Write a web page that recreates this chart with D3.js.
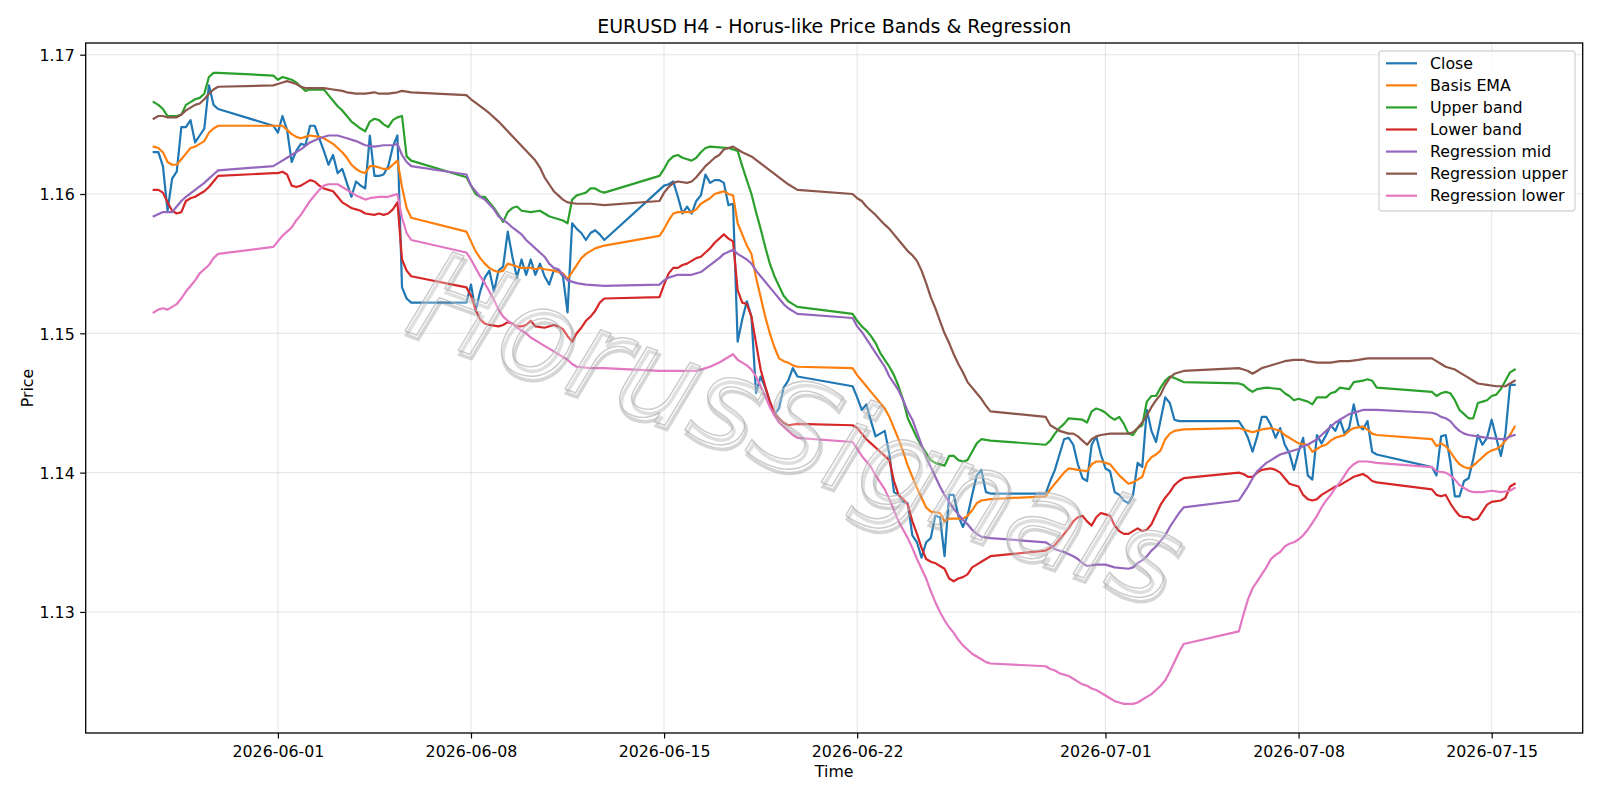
<!DOCTYPE html>
<html>
<head>
<meta charset="utf-8">
<script src="https://cdn.jsdelivr.net/npm/d3@7"></script>
<style>
  body { margin: 0; background: #fff; }
  svg text { font-family: "DejaVu Sans", sans-serif; fill: #000; }
</style>
</head>
<body>
<svg id="chart" width="1600" height="800"></svg>
<script>
// all times are hours after 2026-06-01 00:00 UTC, H4 bars
var T0 = Date.UTC(2026, 5, 1);

// trading sessions (first bar, last bar) - weekends are skipped
var sessions = [[-108, -52], [-4, 116], [164, 284], [332, 452], [500, 620], [668, 788], [836, 956], [1004, 1076]];

// close, one value per H4 bar of each session
var closeBySession = [
  [1.1630,1.1630,1.1620,1.1588,1.1611,1.1616,1.1648,1.1648,1.1653,1.1637,1.1642,1.1647,1.1678,1.1664,1.1661],
  [1.1649,1.1644,1.1656,1.1646,1.1623,1.1631,1.1636,1.1635,1.1649,1.1649,1.1640,1.1631,1.1621,1.1628,1.1615,1.1618,1.1608,1.1598,1.1609,1.1606,1.1604,1.1642,1.1613,1.1613,1.1614,1.1620,1.1634,1.1642,1.1533,1.1525,1.1522],
  [1.1522,1.1535,1.1516,1.1530,1.1540,1.1545,1.1530,1.1545,1.1548,1.1573,1.1555,1.1540,1.1553,1.1542,1.1553,1.1542,1.1550,1.1541,1.1535,1.1545,1.1545,1.1541,1.1515,1.1579,1.1575,1.1572,1.1567,1.1572,1.1574,1.1571,1.1567],
  [1.1603,1.1606,1.1607,1.1609,1.1598,1.1586,1.1591,1.1586,1.1595,1.1599,1.1614,1.1608,1.1610,1.1610,1.1608,1.1592,1.1593,1.1494,1.1510,1.1523,1.1512,1.1457,1.1469,1.1461,1.1451,1.1442,1.1446,1.1461,1.1466,1.1475,1.1469],
  [1.1462,1.1454,1.1445,1.1449,1.1437,1.1426,1.1428,1.1430,1.1413,1.1386,1.1384,1.1379,1.1378,1.1355,1.1350,1.1339,1.1350,1.1353,1.1369,1.1368,1.1340,1.1384,1.1384,1.1369,1.1361,1.1369,1.1384,1.1398,1.1402,1.1386,1.1385],
  [1.1385,1.1394,1.1402,1.1413,1.1424,1.1425,1.1420,1.1406,1.1396,1.1394,1.1420,1.1426,1.1413,1.1403,1.1401,1.1386,1.1384,1.1380,1.1378,1.1384,1.1407,1.1404,1.1445,1.1430,1.1422,1.1438,1.1454,1.1450,1.1438,1.1437,1.1437],
  [1.1437,1.1432,1.1425,1.1415,1.1426,1.1440,1.1440,1.1434,1.1425,1.1432,1.1420,1.1414,1.1402,1.1415,1.1425,1.1398,1.1395,1.1427,1.1421,1.1427,1.1434,1.1430,1.1438,1.1428,1.1432,1.1449,1.1434,1.1431,1.1437,1.1415,1.1413],
  [1.1404,1.1398,1.1426,1.1427,1.1408,1.1383,1.1383,1.1394,1.1396,1.1410,1.1427,1.1420,1.1425,1.1438,1.1425,1.1412,1.1428,1.1463,1.1463]
];

// smooth series as [hour, price]
var basisEma = [[-108,1.1634],[-104,1.1633],[-100,1.1630],[-96,1.1623],[-92,1.1621],[-88,1.1621],[-84,1.1625],[-80,1.1629],[-76,1.1633],[-72,1.1634],[-68,1.1636],[-64,1.1638],[-60,1.1644],[-56,1.1647],[-52,1.1649],
  [-4,1.1649],[0,1.1649],[4,1.1649],[8,1.1646],[12,1.1643],[16,1.1641],[20,1.1640],[24,1.1641],[28,1.1642],[36,1.1641],[40,1.1640],[44,1.1638],[48,1.1636],[52,1.1633],[56,1.1630],[60,1.1626],[64,1.1621],[68,1.1618],[72,1.1616],[76,1.1615],[80,1.1620],[84,1.1620],[88,1.1619],[92,1.1618],[96,1.1618],[100,1.1621],[104,1.1624],[108,1.1605],[112,1.1590],[116,1.1583],
  [164,1.1573],[168,1.1566],[172,1.1559],[176,1.1554],[180,1.1550],[184,1.1547],[188,1.1545],[192,1.1544],[196,1.1545],[200,1.1550],[204,1.1549],[208,1.1548],[212,1.1547],[220,1.1547],[224,1.1546],[228,1.1547],[232,1.1546],[240,1.1545],[244,1.1544],[248,1.1543],[252,1.1539],[256,1.1544],[260,1.1549],[264,1.1554],[268,1.1557],[272,1.1559],[276,1.1561],[284,1.1563],
  [332,1.1570],[336,1.1575],[340,1.1581],[344,1.1586],[348,1.1587],[360,1.1587],[364,1.1589],[368,1.1593],[372,1.1595],[376,1.1597],[380,1.1600],[384,1.1601],[388,1.1602],[392,1.1600],[396,1.1599],[400,1.1579],[404,1.1571],[408,1.1563],[412,1.1557],[416,1.1540],[420,1.1526],[424,1.1512],[428,1.1500],[432,1.1490],[436,1.1482],[440,1.1480],[444,1.1479],[448,1.1477],[452,1.1476],
  [500,1.1475],[504,1.1470],[508,1.1466],[512,1.1462],[516,1.1458],[520,1.1454],[524,1.1450],[528,1.1446],[532,1.1440],[536,1.1432],[540,1.1424],[544,1.1415],[548,1.1405],[552,1.1397],[556,1.1389],[560,1.1382],[564,1.1375],[568,1.1372],[576,1.1371],[580,1.1365],[584,1.1367],[596,1.1367],[600,1.1369],[604,1.1373],[608,1.1378],[612,1.1380],[620,1.1381],
  [668,1.1383],[672,1.1388],[676,1.1392],[680,1.1396],[684,1.1400],[688,1.1403],[696,1.1402],[704,1.1401],[708,1.1406],[712,1.1408],[716,1.1408],[720,1.1407],[724,1.1406],[728,1.1402],[732,1.1398],[736,1.1395],[740,1.1392],[744,1.1393],[748,1.1395],[752,1.1397],[756,1.1407],[760,1.1411],[764,1.1413],[768,1.1416],[772,1.1424],[776,1.1428],[780,1.1430],[788,1.1431],
  [836,1.1432],[840,1.1431],[844,1.1430],[848,1.1429],[852,1.1430],[856,1.1431],[864,1.1432],[868,1.1431],[872,1.1430],[876,1.1427],[880,1.1425],[884,1.1423],[888,1.1421],[896,1.1420],[900,1.1415],[904,1.1417],[908,1.1419],[912,1.1420],[916,1.1423],[920,1.1425],[924,1.1426],[928,1.1427],[932,1.1430],[936,1.1432],[944,1.1433],[948,1.1431],[952,1.1428],[956,1.1427],
  [1004,1.1424],[1008,1.1419],[1012,1.1421],[1016,1.1419],[1020,1.1415],[1024,1.1410],[1028,1.1406],[1032,1.1404],[1036,1.1403],[1040,1.1405],[1044,1.1408],[1048,1.1411],[1052,1.1414],[1056,1.1416],[1060,1.1417],[1064,1.1419],[1068,1.1423],[1072,1.1427],[1076,1.1433]];

var upperBand = [[-108,1.1666],[-104,1.1664],[-100,1.1661],[-96,1.1656],[-88,1.1656],[-84,1.1657],[-80,1.1664],[-76,1.1666],[-72,1.1668],[-68,1.1669],[-64,1.1672],[-60,1.1684],[-56,1.1687],[-52,1.1687],
  [-4,1.1685],[0,1.1682],[4,1.1684],[8,1.1683],[12,1.1682],[16,1.1680],[20,1.1677],[24,1.1674],[28,1.1675],[40,1.1675],[44,1.1671],[52,1.1663],[56,1.1660],[60,1.1656],[64,1.1652],[72,1.1647],[76,1.1645],[80,1.1652],[84,1.1654],[88,1.1653],[92,1.1650],[96,1.1648],[100,1.1653],[104,1.1655],[108,1.1656],[112,1.1627],[116,1.1624],
  [164,1.1612],[168,1.1606],[172,1.1600],[176,1.1598],[180,1.1598],[184,1.1594],[188,1.1590],[192,1.1585],[196,1.1580],[200,1.1587],[204,1.1590],[208,1.1591],[212,1.1588],[220,1.1587],[228,1.1588],[232,1.1586],[236,1.1584],[240,1.1583],[248,1.1581],[252,1.1579],[256,1.1596],[260,1.1599],[264,1.1600],[268,1.1601],[272,1.1604],[276,1.1604],[280,1.1602],[284,1.1601],
  [332,1.1613],[336,1.1618],[340,1.1624],[344,1.1627],[348,1.1628],[352,1.1626],[360,1.1624],[364,1.1626],[368,1.1630],[372,1.1633],[376,1.1634],[392,1.1633],[400,1.1631],[404,1.1620],[408,1.1610],[412,1.1600],[416,1.1587],[420,1.1575],[424,1.1562],[428,1.1550],[432,1.1541],[436,1.1534],[440,1.1527],[444,1.1523],[448,1.1521],[452,1.1519],
  [500,1.1514],[504,1.1509],[508,1.1505],[512,1.1502],[516,1.1498],[520,1.1493],[524,1.1486],[528,1.1481],[532,1.1476],[536,1.1470],[540,1.1462],[544,1.1452],[548,1.1439],[552,1.1432],[556,1.1425],[560,1.1419],[564,1.1414],[568,1.1409],[572,1.1407],[580,1.1405],[584,1.1412],[588,1.1412],[592,1.1409],[596,1.1408],[600,1.1409],[604,1.1415],[608,1.1421],[612,1.1424],[620,1.1423],
  [668,1.1420],[672,1.1423],[676,1.1428],[680,1.1432],[684,1.1435],[688,1.1439],[700,1.1438],[704,1.1436],[708,1.1444],[712,1.1446],[716,1.1445],[720,1.1443],[724,1.1440],[728,1.1438],[732,1.1440],[736,1.1435],[740,1.1428],[744,1.1427],[748,1.1432],[752,1.1434],[756,1.1451],[760,1.1455],[764,1.1455],[768,1.1461],[772,1.1466],[776,1.1469],[780,1.1468],[788,1.1465],
  [836,1.1464],[840,1.1463],[844,1.1460],[848,1.1458],[852,1.1460],[860,1.1461],[872,1.1460],[876,1.1457],[880,1.1455],[884,1.1452],[888,1.1453],[896,1.1451],[900,1.1449],[904,1.1454],[912,1.1454],[916,1.1457],[920,1.1458],[924,1.1461],[932,1.1460],[936,1.1465],[944,1.1466],[948,1.1467],[952,1.1466],[956,1.1461],
  [1004,1.1458],[1008,1.1455],[1012,1.1457],[1016,1.1458],[1020,1.1457],[1024,1.1452],[1028,1.1445],[1032,1.1442],[1036,1.1439],[1040,1.1439],[1044,1.1450],[1048,1.1451],[1052,1.1452],[1056,1.1455],[1060,1.1456],[1064,1.1460],[1068,1.1466],[1072,1.1472],[1076,1.1474]];

var lowerBand = [[-108,1.1603],[-104,1.1603],[-100,1.1601],[-96,1.1594],[-92,1.1588],[-88,1.1586],[-84,1.1587],[-80,1.1595],[-76,1.1597],[-72,1.1598],[-68,1.1600],[-64,1.1602],[-60,1.1605],[-56,1.1609],[-52,1.1613],
  [-4,1.1615],[0,1.1615],[4,1.1616],[8,1.1614],[12,1.1606],[16,1.1605],[20,1.1606],[24,1.1608],[28,1.1610],[32,1.1609],[36,1.1606],[40,1.1604],[44,1.1603],[48,1.1602],[52,1.1598],[56,1.1594],[60,1.1592],[64,1.1590],[68,1.1589],[72,1.1588],[76,1.1586],[84,1.1585],[88,1.1586],[92,1.1585],[96,1.1586],[100,1.1589],[104,1.1594],[108,1.1553],[112,1.1545],[116,1.1541],
  [164,1.1533],[168,1.1527],[172,1.1517],[176,1.1510],[180,1.1507],[184,1.1506],[192,1.1505],[196,1.1506],[200,1.1508],[204,1.1507],[208,1.1505],[212,1.1505],[216,1.1506],[220,1.1509],[224,1.1505],[232,1.1504],[240,1.1506],[244,1.1505],[248,1.1503],[252,1.1498],[256,1.1494],[260,1.1500],[264,1.1504],[268,1.1509],[272,1.1512],[276,1.1516],[280,1.1522],[284,1.1525],
  [332,1.1526],[336,1.1535],[340,1.1543],[344,1.1547],[348,1.1547],[352,1.1549],[356,1.1550],[360,1.1552],[364,1.1554],[368,1.1555],[372,1.1558],[376,1.1561],[380,1.1565],[384,1.1568],[388,1.1571],[392,1.1568],[396,1.1566],[400,1.1531],[404,1.1522],[408,1.1521],[412,1.1512],[416,1.1493],[420,1.1474],[424,1.1462],[428,1.1451],[432,1.1443],[436,1.1439],[440,1.1436],[444,1.1434],[452,1.1435],
  [500,1.1434],[504,1.1432],[508,1.1428],[512,1.1424],[516,1.1421],[520,1.1418],[524,1.1415],[528,1.1412],[532,1.1409],[536,1.1394],[540,1.1384],[544,1.1381],[548,1.1377],[552,1.1365],[556,1.1356],[560,1.1346],[564,1.1338],[568,1.1336],[572,1.1335],[576,1.1333],[580,1.1331],[584,1.1324],[588,1.1322],[592,1.1324],[596,1.1325],[600,1.1327],[604,1.1332],[608,1.1334],[612,1.1336],[616,1.1338],[620,1.1340],
  [668,1.1344],[672,1.1346],[676,1.1348],[680,1.1352],[684,1.1356],[688,1.1360],[692,1.1365],[696,1.1368],[700,1.1369],[704,1.1365],[708,1.1362],[712,1.1368],[716,1.1371],[720,1.1370],[724,1.1369],[728,1.1362],[732,1.1358],[736,1.1356],[740,1.1356],[744,1.1358],[748,1.1360],[752,1.1358],[756,1.1359],[760,1.1363],[764,1.1370],[768,1.1377],[772,1.1382],[776,1.1386],[780,1.1391],[784,1.1394],[788,1.1396],
  [836,1.1400],[840,1.1399],[844,1.1397],[848,1.1397],[852,1.1400],[856,1.1402],[864,1.1403],[868,1.1402],[872,1.1400],[876,1.1396],[880,1.1392],[888,1.1390],[892,1.1384],[896,1.1381],[900,1.1380],[904,1.1381],[908,1.1384],[912,1.1386],[916,1.1388],[920,1.1390],[924,1.1391],[928,1.1393],[932,1.1395],[936,1.1397],[940,1.1398],[944,1.1399],[948,1.1397],[952,1.1394],[956,1.1393],
  [1004,1.1388],[1008,1.1384],[1012,1.1383],[1016,1.1384],[1020,1.1378],[1024,1.1373],[1028,1.1369],[1032,1.1368],[1036,1.1368],[1040,1.1366],[1044,1.1367],[1048,1.1372],[1052,1.1377],[1056,1.1379],[1064,1.1380],[1068,1.1382],[1072,1.1390],[1076,1.1392]];

var regMid = [[-108,1.1584],[-100,1.1587],[-92,1.1587],[-88,1.1591],[-84,1.1595],[-80,1.1598],[-72,1.1603],[-64,1.1608],[-60,1.1611],[-56,1.1614],[-52,1.1617],
  [-4,1.1620],[0,1.1622],[8,1.1626],[12,1.1628],[20,1.1632],[28,1.1637],[36,1.1640],[44,1.1642],[52,1.1642],[60,1.1640],[68,1.1638],[76,1.1635],[84,1.1634],[92,1.1635],[100,1.1635],[104,1.1636],[108,1.1628],[112,1.1623],[116,1.1620],
  [164,1.1614],[168,1.1606],[176,1.1598],[180,1.1596],[188,1.1589],[192,1.1584],[200,1.1579],[204,1.1576],[212,1.1571],[216,1.1567],[224,1.1561],[232,1.1555],[236,1.1550],[240,1.1547],[244,1.1546],[248,1.1542],[252,1.1538],[260,1.1536],[268,1.1535],[284,1.1534],
  [332,1.1535],[336,1.1538],[340,1.1540],[348,1.1542],[360,1.1542],[368,1.1544],[376,1.1549],[384,1.1554],[388,1.1557],[396,1.1560],[400,1.1557],[408,1.1553],[412,1.1550],[416,1.1545],[420,1.1541],[424,1.1537],[428,1.1533],[432,1.1529],[436,1.1525],[440,1.1521],[444,1.1518],[452,1.1514],
  [500,1.1511],[504,1.1505],[508,1.1501],[512,1.1496],[516,1.1491],[520,1.1486],[524,1.1481],[528,1.1476],[532,1.1469],[536,1.1464],[540,1.1459],[544,1.1452],[548,1.1444],[552,1.1438],[556,1.1429],[560,1.1420],[564,1.1411],[568,1.1404],[572,1.1397],[576,1.1390],[580,1.1384],[584,1.1379],[588,1.1374],[592,1.1370],[596,1.1366],[600,1.1363],[604,1.1359],[608,1.1356],[612,1.1354],[620,1.1353],
  [668,1.1350],[672,1.1348],[676,1.1345],[684,1.1343],[692,1.1340],[696,1.1338],[700,1.1335],[704,1.1333],[712,1.1334],[720,1.1334],[728,1.1332],[740,1.1331],[744,1.1332],[748,1.1335],[752,1.1337],[756,1.1340],[760,1.1344],[764,1.1347],[768,1.1351],[772,1.1355],[776,1.1361],[780,1.1366],[784,1.1371],[788,1.1375],
  [836,1.1380],[840,1.1385],[844,1.1390],[848,1.1396],[852,1.1401],[856,1.1404],[860,1.1407],[864,1.1409],[868,1.1411],[872,1.1413],[876,1.1414],[880,1.1415],[888,1.1417],[892,1.1419],[896,1.1420],[900,1.1422],[904,1.1424],[908,1.1427],[912,1.1430],[916,1.1433],[920,1.1436],[924,1.1438],[928,1.1440],[932,1.1442],[936,1.1443],[940,1.1444],[944,1.1445],[956,1.1445],
  [1004,1.1443],[1008,1.1442],[1012,1.1440],[1016,1.1439],[1020,1.1437],[1024,1.1433],[1028,1.1430],[1032,1.1428],[1036,1.1427],[1044,1.1426],[1052,1.1425],[1064,1.1424],[1068,1.1424],[1072,1.1426],[1076,1.1427]];

var regUpper = [[-108,1.1654],[-104,1.1656],[-100,1.1656],[-96,1.1655],[-88,1.1655],[-84,1.1657],[-80,1.1660],[-76,1.1662],[-72,1.1664],[-68,1.1665],[-64,1.1668],[-60,1.1672],[-56,1.1675],[-52,1.1677],
  [-4,1.1678],[0,1.1679],[4,1.1680],[8,1.1681],[12,1.1680],[16,1.1679],[20,1.1677],[24,1.1676],[40,1.1676],[48,1.1675],[56,1.1674],[60,1.1673],[68,1.1672],[76,1.1672],[84,1.1673],[88,1.1672],[96,1.1672],[104,1.1673],[108,1.1674],[116,1.1673],
  [164,1.1671],[168,1.1668],[176,1.1663],[184,1.1658],[192,1.1652],[200,1.1645],[208,1.1638],[216,1.1631],[224,1.1624],[228,1.1619],[232,1.1612],[236,1.1607],[240,1.1602],[244,1.1599],[248,1.1596],[252,1.1594],[260,1.1593],[272,1.1593],[284,1.1592],
  [332,1.1595],[336,1.1601],[340,1.1605],[344,1.1608],[348,1.1609],[356,1.1608],[360,1.1609],[364,1.1612],[368,1.1616],[372,1.1620],[376,1.1623],[380,1.1626],[384,1.1628],[388,1.1632],[392,1.1633],[396,1.1634],[400,1.1632],[404,1.1630],[412,1.1627],[420,1.1622],[428,1.1617],[436,1.1612],[444,1.1607],[452,1.1603],
  [500,1.1600],[504,1.1597],[508,1.1595],[512,1.1591],[516,1.1588],[520,1.1585],[528,1.1578],[532,1.1575],[540,1.1567],[544,1.1563],[548,1.1559],[552,1.1556],[556,1.1552],[560,1.1545],[564,1.1536],[568,1.1526],[572,1.1518],[576,1.1509],[580,1.1500],[584,1.1493],[588,1.1485],[592,1.1478],[596,1.1472],[600,1.1465],[604,1.1461],[608,1.1457],[612,1.1453],[616,1.1448],[620,1.1444],
  [668,1.1440],[672,1.1434],[676,1.1432],[680,1.1430],[688,1.1428],[692,1.1428],[696,1.1426],[700,1.1423],[704,1.1420],[708,1.1424],[712,1.1426],[716,1.1427],[724,1.1428],[740,1.1428],[744,1.1429],[748,1.1432],[752,1.1436],[756,1.1441],[760,1.1447],[764,1.1452],[768,1.1456],[772,1.1463],[776,1.1468],[780,1.1471],[788,1.1473],
  [836,1.1475],[840,1.1474],[844,1.1473],[848,1.1471],[852,1.1473],[856,1.1475],[860,1.1476],[868,1.1478],[876,1.1480],[884,1.1481],[892,1.1481],[896,1.1480],[904,1.1479],[916,1.1479],[924,1.1480],[932,1.1480],[940,1.1481],[948,1.1482],[956,1.1482],
  [1004,1.1482],[1008,1.1480],[1012,1.1478],[1016,1.1476],[1024,1.1474],[1028,1.1472],[1032,1.1470],[1036,1.1468],[1040,1.1466],[1044,1.1464],[1052,1.1463],[1060,1.1462],[1068,1.1462],[1072,1.1464],[1076,1.1466]];

var regLower = [[-108,1.1515],[-104,1.1517],[-100,1.1518],[-96,1.1517],[-92,1.1519],[-88,1.1521],[-84,1.1525],[-80,1.1530],[-76,1.1534],[-72,1.1538],[-68,1.1543],[-64,1.1546],[-60,1.1549],[-56,1.1554],[-52,1.1557],
  [-4,1.1562],[0,1.1566],[4,1.1570],[8,1.1573],[12,1.1576],[16,1.1581],[20,1.1585],[24,1.1590],[28,1.1595],[32,1.1599],[36,1.1603],[40,1.1606],[44,1.1607],[52,1.1607],[56,1.1605],[60,1.1603],[64,1.1601],[68,1.1599],[76,1.1596],[80,1.1597],[88,1.1598],[96,1.1598],[100,1.1599],[104,1.1600],[108,1.1583],[112,1.1572],[116,1.1567],
  [164,1.1558],[168,1.1553],[172,1.1547],[176,1.1541],[180,1.1536],[184,1.1530],[188,1.1524],[192,1.1517],[196,1.1512],[200,1.1509],[204,1.1507],[208,1.1504],[212,1.1502],[216,1.1500],[220,1.1497],[224,1.1495],[228,1.1493],[232,1.1491],[236,1.1489],[240,1.1487],[248,1.1483],[252,1.1481],[256,1.1478],[260,1.1476],[272,1.1475],[284,1.1475],
  [332,1.1473],[364,1.1473],[372,1.1475],[376,1.1476],[384,1.1479],[388,1.1481],[392,1.1483],[396,1.1485],[400,1.1481],[404,1.1479],[408,1.1477],[412,1.1474],[416,1.1469],[420,1.1462],[424,1.1455],[428,1.1447],[432,1.1441],[436,1.1436],[440,1.1433],[444,1.1430],[448,1.1427],[452,1.1425],
  [500,1.1422],[504,1.1417],[508,1.1412],[512,1.1408],[516,1.1404],[520,1.1398],[524,1.1393],[528,1.1388],[532,1.1381],[536,1.1373],[540,1.1365],[544,1.1359],[548,1.1353],[552,1.1346],[556,1.1338],[560,1.1331],[564,1.1324],[568,1.1315],[572,1.1307],[576,1.1300],[580,1.1294],[584,1.1289],[588,1.1285],[592,1.1280],[596,1.1276],[600,1.1273],[604,1.1270],[608,1.1268],[612,1.1266],[616,1.1264],[620,1.1263],
  [668,1.1261],[672,1.1259],[676,1.1258],[680,1.1256],[684,1.1255],[688,1.1254],[692,1.1252],[696,1.1250],[700,1.1248],[704,1.1247],[708,1.1245],[712,1.1244],[716,1.1242],[720,1.1240],[724,1.1238],[728,1.1236],[732,1.1235],[736,1.1234],[744,1.1234],[748,1.1235],[752,1.1237],[756,1.1239],[760,1.1241],[764,1.1244],[768,1.1247],[772,1.1251],[776,1.1257],[780,1.1264],[784,1.1271],[788,1.1277],
  [836,1.1286],[840,1.1298],[844,1.1309],[848,1.1317],[852,1.1322],[856,1.1327],[860,1.1332],[864,1.1338],[868,1.1341],[872,1.1343],[876,1.1347],[880,1.1349],[884,1.1350],[888,1.1352],[892,1.1355],[896,1.1359],[900,1.1364],[904,1.1369],[908,1.1375],[912,1.1380],[916,1.1384],[920,1.1389],[924,1.1393],[928,1.1398],[932,1.1403],[936,1.1406],[940,1.1408],[948,1.1408],[956,1.1407],
  [1004,1.1404],[1008,1.1401],[1016,1.1400],[1020,1.1398],[1024,1.1395],[1028,1.1391],[1032,1.1389],[1036,1.1387],[1040,1.1386],[1048,1.1386],[1056,1.1387],[1064,1.1386],[1072,1.1387],[1076,1.1389]];

var seriesNames = ["Close", "Basis EMA", "Upper band", "Lower band", "Regression mid", "Regression upper", "Regression lower"];
var seriesColors = ["#1f77b4", "#ff7f0e", "#2ca02c", "#d62728", "#9467bd", "#8c564b", "#e377c2"];
var priceTicks = [1.13, 1.14, 1.15, 1.16, 1.17];
var dateTicks = ["2026-06-01", "2026-06-08", "2026-06-15", "2026-06-22", "2026-07-01", "2026-07-08", "2026-07-15"];
var priceRange = [1.12131, 1.17084];

// expand close sessions into [hour, price]
var closeData = [];
sessions.forEach(function(s, i){
  closeBySession[i].forEach(function(v, j){ closeData.push([s[0] + 4 * j, v]); });
});
var allSeries = [closeData, basisEma, upperBand, lowerBand, regMid, regUpper, regLower];

function toDate(h){ return new Date(T0 + h * 3600000); }

var plotL = 85.7, plotR = 1582.7, plotT = 43, plotB = 733;
var svg = d3.select("#chart");

// matplotlib style 5% margins on the time axis
var hExt = d3.extent(closeData, function(d){ return d[0]; });
var hPad = (hExt[1] - hExt[0]) * 0.05;
var x = d3.scaleUtc().domain([toDate(hExt[0] - hPad), toDate(hExt[1] + hPad)]).range([plotL, plotR]);
var y = d3.scaleLinear().domain(priceRange).range([plotB, plotT]);

var parseDay = d3.utcParse("%Y-%m-%d");
var tickDates = dateTicks.map(function(s){ return parseDay(s); });

// grid
var grid = svg.append("g").attr("stroke", "#b0b0b0").attr("stroke-opacity", 0.3).attr("stroke-width", 1.1);
tickDates.forEach(function(t){
  grid.append("line").attr("x1", x(t)).attr("x2", x(t)).attr("y1", plotT).attr("y2", plotB);
});
priceTicks.forEach(function(p){
  grid.append("line").attr("x1", plotL).attr("x2", plotR).attr("y1", y(p)).attr("y2", y(p));
});

svg.append("clipPath").attr("id", "plotclip").append("rect")
  .attr("x", plotL).attr("y", plotT).attr("width", plotR - plotL).attr("height", plotB - plotT);

var line = d3.line()
  .x(function(d){ return x(toDate(d[0])); })
  .y(function(d){ return y(d[1]); });

var plot = svg.append("g").attr("clip-path", "url(#plotclip)");
allSeries.forEach(function(data, i){
  plot.append("path")
    .attr("d", line(data))
    .attr("fill", "none")
    .attr("stroke", seriesColors[i])
    .attr("stroke-width", 2.2)
    .attr("stroke-linejoin", "round")
    .attr("stroke-linecap", "square");
});

// watermark: light outline with a soft shadow
var wm = svg.append("g").attr("transform", "translate(782,468) rotate(20)");
wm.append("text").text("HorusSignals")
  .attr("x", 3).attr("y", 3.5)
  .attr("text-anchor", "middle")
  .style("font-size", "124px").style("font-style", "italic")
  .style("fill", "none").style("stroke", "#9c9c9c").style("stroke-width", 3.5).style("stroke-opacity", 0.42);
wm.append("text").text("HorusSignals")
  .attr("text-anchor", "middle")
  .style("font-size", "124px").style("font-style", "italic")
  .style("fill", "#ffffff").style("fill-opacity", 0.25)
  .style("stroke", "#b4b4b4").style("stroke-width", 1.4).style("stroke-opacity", 0.7);

// axes
var xAxis = svg.append("g").attr("transform", "translate(0," + plotB + ")")
  .call(d3.axisBottom(x).tickValues(tickDates).tickFormat(d3.utcFormat("%Y-%m-%d")).tickSize(5.5).tickPadding(5));
var yAxis = svg.append("g").attr("transform", "translate(" + plotL + ",0)")
  .call(d3.axisLeft(y).tickValues(priceTicks).tickFormat(d3.format(".2f")).tickSize(5.5).tickPadding(5.5));
[xAxis, yAxis].forEach(function(a){
  a.select(".domain").remove();
  a.selectAll(".tick line").attr("stroke", "#000").attr("stroke-width", 1.2);
  a.selectAll(".tick text").style("font-size", "15.8px").style("font-family", "DejaVu Sans").attr("fill", "#000");
});
xAxis.selectAll(".tick text").attr("dy", null).attr("y", 24);
yAxis.selectAll(".tick text").attr("dy", "0.36em");

svg.append("rect").attr("x", plotL).attr("y", plotT).attr("width", plotR - plotL).attr("height", plotB - plotT)
  .attr("fill", "none").attr("stroke", "#000").attr("stroke-width", 1.3);

svg.append("text").attr("x", (plotL + plotR) / 2).attr("y", 33.3).attr("text-anchor", "middle")
  .style("font-size", "19px").text("EURUSD H4 - Horus-like Price Bands & Regression");
svg.append("text").attr("x", (plotL + plotR) / 2).attr("y", 777).attr("text-anchor", "middle")
  .style("font-size", "15.8px").text("Time");
svg.append("text").attr("transform", "translate(33,388) rotate(-90)").attr("text-anchor", "middle")
  .style("font-size", "15.8px").text("Price");

// legend
var lg = svg.append("g");
lg.append("rect").attr("x", 1379).attr("y", 51).attr("width", 196).attr("height", 160).attr("rx", 3)
  .attr("fill", "#fff").attr("fill-opacity", 0.8).attr("stroke", "#cccccc").attr("stroke-opacity", 0.8).attr("stroke-width", 1.3);
seriesNames.forEach(function(name, i){
  var cy = 63.3 + i * 22.07;
  lg.append("line").attr("x1", 1386).attr("x2", 1417).attr("y1", cy).attr("y2", cy)
    .attr("stroke", seriesColors[i]).attr("stroke-width", 2.2);
  lg.append("text").attr("x", 1430).attr("y", cy + 5.3).style("font-size", "15.8px").text(name);
});
</script>
</body>
</html>
